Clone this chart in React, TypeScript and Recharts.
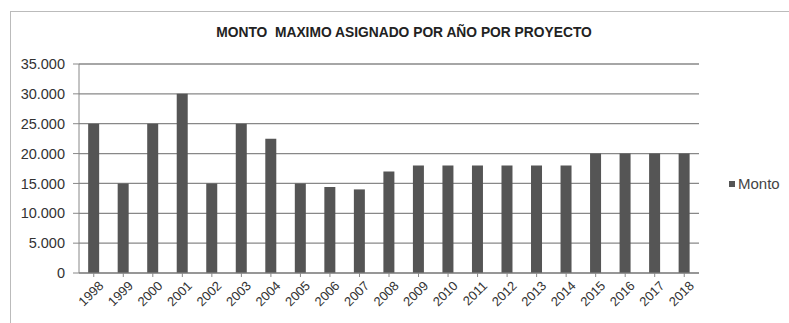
import React from "react";
import { BarChart, Bar, XAxis, YAxis, CartesianGrid } from "recharts";

const years = ["1998","1999","2000","2001","2002","2003","2004","2005","2006","2007","2008","2009","2010","2011","2012","2013","2014","2015","2016","2017","2018"];
const monto = [25000,15000,25000,30000,15000,25000,22500,15000,14400,14000,17000,18000,18000,18000,18000,18000,18000,20000,20000,20000,20000];
const yTicks = [0,5000,10000,15000,20000,25000,30000,35000];
const seriesName = "Monto";

const data = years.map((y, i) => ({ year: y, [seriesName]: monto[i] }));

const fmt = (v: number) => String(v).replace(/\B(?=(\d{3})+(?!\d))/g, ".");
const FONT = "Liberation Sans, Arial, sans-serif";

const XTick = (props: any) => {
  const { x, y, payload } = props;
  return (
    <g transform={`translate(${x + 7},${y + 4})`}>
      <text textAnchor="end" transform="rotate(-45)" fontSize={13} fill="#333" fontFamily={FONT} dy={5}>
        {payload.value}
      </text>
    </g>
  );
};

export default function App() {
  return (
    <div style={{ position: "absolute", left: 0, top: 0, width: 789, height: 323, background: "#fff", overflow: "hidden" }}>
      <div style={{ position: "absolute", left: 10, top: 11, width: 800, height: 330, border: "1px solid #bbb", boxSizing: "border-box" }} />
      <div style={{ position: "absolute", left: 0, top: 25, width: 808, textAlign: "center", fontFamily: FONT, fontWeight: "bold", fontSize: 13.8, color: "#222" }}>
        MONTO&nbsp; MAXIMO ASIGNADO POR AÑO POR PROYECTO
      </div>
      <div style={{ position: "absolute", left: 0, top: 0 }}>
        <BarChart width={789} height={323} data={data} margin={{ top: 64, right: 90, bottom: 20, left: 0 }} barCategoryGap="31%">
          <CartesianGrid vertical={false} stroke="#888" strokeWidth={1.3} />
          <XAxis dataKey="year" height={30} tick={<XTick />} interval={0} stroke="#888" tickLine={{ stroke: "#888" }} tickSize={4} />
          <YAxis width={79} domain={[0, 35000]} ticks={yTicks} tickFormatter={fmt} stroke="#888" tickSize={6} tickMargin={8}
            tick={{ fill: "#333", fontSize: 14.5, fontFamily: FONT }} />
          <Bar dataKey={seriesName} fill="#555555" isAnimationActive={false} />
        </BarChart>
      </div>
      <div style={{ position: "absolute", left: 729, top: 175, display: "flex", alignItems: "center", fontFamily: FONT, fontSize: 15, color: "#444" }}>
        <span style={{ display: "inline-block", width: 6, height: 6, background: "#555555", marginRight: 3 }} />
        {seriesName}
      </div>
    </div>
  );
}
